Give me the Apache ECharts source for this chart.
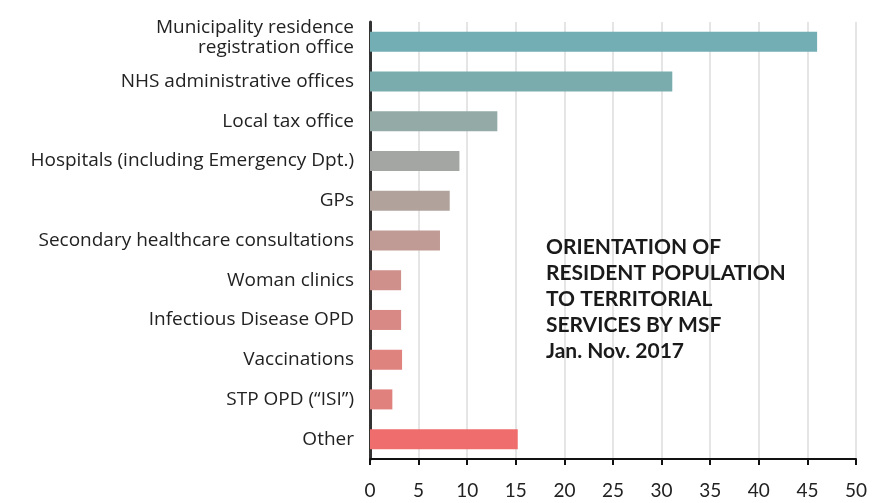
<!DOCTYPE html>
<html style="height: 100%">
<head>
    <meta charset="utf-8">
    <title>Orientation of resident population</title>
</head>
<body style="height: 100%; margin: 0; background: #fff">
<div id="container" style="width: 872px; height: 503px"></div>
<script type="text/javascript" src="https://cdn.jsdelivr.net/npm/echarts@6/dist/echarts.min.js"></script>
<script type="text/javascript">
    var categories = [
        'Municipality residence\nregistration office',
        'NHS administrative offices',
        'Local tax office',
        'Hospitals (including Emergency Dpt.)',
        'GPs',
        'Secondary healthcare consultations',
        'Woman clinics',
        'Infectious Disease OPD',
        'Vaccinations',
        'STP OPD (\u201cISI\u201d)',
        'Other'
    ];
    var values = [46.0, 31.1, 13.1, 9.2, 8.2, 7.2, 3.2, 3.2, 3.3, 2.3, 15.2];
    var colors = ['#72aeb4', '#7aacad', '#93aaa6', '#a3a6a2', '#b1a39c', '#c09b95',
        '#cf8f8b', '#d88985', '#df837f', '#e0817e', '#ef6d6d'];
    var xTicks = [0, 5, 10, 15, 20, 25, 30, 35, 40, 45, 50];

    var dom = document.getElementById("container");
    var myChart = echarts.init(dom);

    var barData = values.map(function (v, i) {
        return { value: v, itemStyle: { color: colors[i] } };
    });

    var option = {
        animation: false,
        textStyle: { fontFamily: 'Open Sans' },
        title: {
            text: 'ORIENTATION OF\nRESIDENT POPULATION\nTO TERRITORIAL\nSERVICES BY MSF\nJan. Nov. 2017',
            left: 541,
            top: 229,
            textStyle: {
                fontFamily: 'Lato',
                fontSize: 21,
                fontWeight: 'bold',
                color: '#1a1a1a',
                lineHeight: 26
            }
        },
        grid: {
            left: 370,
            right: 16,
            top: 22,
            bottom: 44,
            containLabel: false
        },
        xAxis: {
            type: 'value',
            min: xTicks[0],
            max: xTicks[xTicks.length - 1],
            interval: 5,
            axisLine: { show: true, lineStyle: { color: '#111', width: 2 } },
            axisTick: { show: true, length: 6, lineStyle: { color: '#111', width: 2 } },
            axisLabel: { fontSize: 19, color: '#222', margin: 22, fontFamily: 'Lato' },
            splitLine: { show: true, lineStyle: { color: '#dcdcdc', width: 1.5 } }
        },
        yAxis: {
            type: 'category',
            inverse: true,
            data: categories,
            axisLine: { show: true, lineStyle: { color: '#333', width: 3 } },
            axisTick: { show: false },
            axisLabel: {
                fontSize: 19, color: '#222', margin: 16, lineHeight: 20,
                fontFamily: 'Open Sans',
                formatter: function (v, i) {
                    return i === 0 ? '{up|' + v.replace('\n', '}\n{up|') + '}' : v;
                },
                rich: { up: { fontSize: 19, lineHeight: 20, padding: [0, 0, 8, 0], fontFamily: 'Open Sans', color: '#222' } }
            }
        },
        series: [{
            type: 'bar',
            data: barData,
            barWidth: 20
        }]
    };
    myChart.setOption(option);
</script>
</body>
</html>
